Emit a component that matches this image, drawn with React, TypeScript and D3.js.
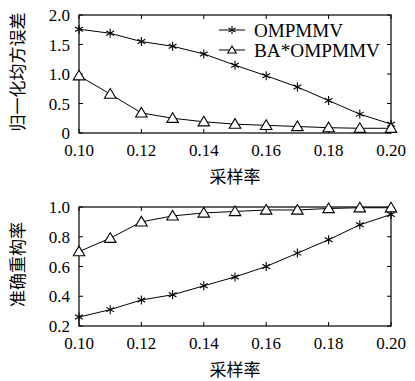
import React from "react";
import * as d3 from "d3";

// Sampling rates (x values shared by both panels)
const sampleRates = [0.1, 0.11, 0.12, 0.13, 0.14, 0.15, 0.16, 0.17, 0.18, 0.19, 0.2];
const xTicks = [0.1, 0.12, 0.14, 0.16, 0.18, 0.2];

// Normalised mean-square error
const nmseOMP = [1.76, 1.69, 1.55, 1.47, 1.34, 1.15, 0.97, 0.78, 0.55, 0.32, 0.15];
const nmseBA = [0.97, 0.66, 0.34, 0.25, 0.19, 0.15, 0.13, 0.11, 0.09, 0.08, 0.08];
const nmseTicks = [0, 0.5, 1.0, 1.5, 2.0];

// Exact reconstruction rate
const rateOMP = [0.26, 0.31, 0.375, 0.41, 0.47, 0.53, 0.6, 0.69, 0.78, 0.88, 0.95];
const rateBA = [0.7, 0.79, 0.9, 0.94, 0.96, 0.97, 0.98, 0.98, 0.99, 0.995, 0.995];
const rateTicks = [0.2, 0.4, 0.6, 0.8, 1.0];

const seriesNames = ["OMPMMV", "BA*OMPMMV"];

const W = 415;
const H = 381;
const left = 79;
const right = 391;
const serif = "'Liberation Serif', 'DejaVu Serif', serif";
const cjk = "'Noto Sans CJK SC', sans-serif";

const Star = ({ x, y, r = 4.5 }: { x: number; y: number; r?: number }) => {
  const a = r * Math.cos(Math.PI / 6);
  const b = r * Math.sin(Math.PI / 6);
  return (
    <g stroke="#000" strokeWidth={1.1}>
      <line x1={x} y1={y - r} x2={x} y2={y + r} />
      <line x1={x - a} y1={y - b} x2={x + a} y2={y + b} />
      <line x1={x - a} y1={y + b} x2={x + a} y2={y - b} />
    </g>
  );
};

const Tri = ({ x, y, s = 5.5 }: { x: number; y: number; s?: number }) => (
  <path
    d={`M${x},${y - s}L${x + s * 1.05},${y + s * 0.75}L${x - s * 1.05},${y + s * 0.75}Z`}
    fill="#fff"
    stroke="#000"
    strokeWidth={1.1}
  />
);

type PanelProps = {
  top: number;
  bottom: number;
  domain: [number, number];
  yTicks: number[];
  yFmt: (v: number) => string;
  omp: number[];
  ba: number[];
  yLabel: string;
  legend?: boolean;
};

const Panel = ({ top, bottom, domain, yTicks, yFmt, omp, ba, yLabel, legend }: PanelProps) => {
  const x = d3.scaleLinear().domain([0.1, 0.2]).range([left, right]);
  const y = d3.scaleLinear().domain(domain).range([bottom, top]);
  const line = d3
    .line<number>()
    .x((_, i) => x(sampleRates[i]))
    .y((d) => y(d));
  const tl = 4;
  const row1 = top + 15;
  const row2 = top + 35;
  return (
    <g>
      {/* legend background sits beneath the curves */}
      {legend && <rect x={215} y={top + 4} width={right - 217} height={40} fill="#fff" />}
      {/* data lines */}
      <path d={line(omp) ?? ""} fill="none" stroke="#000" strokeWidth={1} />
      <path d={line(ba) ?? ""} fill="none" stroke="#000" strokeWidth={1} />
      {/* frame */}
      <rect x={left} y={top} width={right - left} height={bottom - top} fill="none" stroke="#000" strokeWidth={1.2} />
      {/* x ticks */}
      {xTicks.map((t) => (
        <g key={"x" + t}>
          <line x1={x(t)} x2={x(t)} y1={bottom} y2={bottom - tl} stroke="#000" />
          <line x1={x(t)} x2={x(t)} y1={top} y2={top + tl} stroke="#000" />
          <text x={x(t)} y={bottom + 23} textAnchor="middle" fontFamily={serif} fontSize={17}>
            {t.toFixed(2)}
          </text>
        </g>
      ))}
      {/* y ticks */}
      {yTicks.map((t) => (
        <g key={"y" + t}>
          <line x1={left} x2={left + tl} y1={y(t)} y2={y(t)} stroke="#000" />
          <line x1={right} x2={right - tl} y1={y(t)} y2={y(t)} stroke="#000" />
          <text x={left - 9} y={y(t) + 6} textAnchor="end" fontFamily={serif} fontSize={17}>
            {yFmt(t)}
          </text>
        </g>
      ))}
      {/* markers */}
      {omp.map((v, i) => (
        <Star key={"s" + i} x={x(sampleRates[i])} y={y(v)} />
      ))}
      {ba.map((v, i) => (
        <Tri key={"t" + i} x={x(sampleRates[i])} y={y(v)} />
      ))}
      {/* axis titles */}
      <text
        transform={`translate(${24},${(top + bottom) / 2 - 2}) rotate(-90)`}
        textAnchor="middle"
        fontFamily={cjk}
        fontSize={17}
      >
        {yLabel}
      </text>
      <text x={(left + right) / 2} y={bottom + 50} textAnchor="middle" fontFamily={cjk} fontSize={17}>
        采样率
      </text>
      {legend && (
        <g>
          <line x1={219} x2={245} y1={row1} y2={row1} stroke="#000" />
          <Star x={232} y={row1} r={4} />
          <text x={254} y={row1 + 7} fontFamily={serif} fontSize={18} textLength={89} lengthAdjust="spacingAndGlyphs">
            {seriesNames[0]}
          </text>
          <line x1={219} x2={245} y1={row2} y2={row2} stroke="#000" />
          <Tri x={232} y={row2} s={4} />
          <text x={254} y={row2 + 7} fontFamily={serif} fontSize={18} textLength={126} lengthAdjust="spacingAndGlyphs">
            {seriesNames[1]}
          </text>
        </g>
      )}
    </g>
  );
};

export default function App() {
  return (
    <svg width={W} height={H} style={{ display: "block", position: "absolute", left: 0, top: 0, background: "#fff" }}>
      <Panel
        top={15}
        bottom={133}
        domain={[0, 2]}
        yTicks={nmseTicks}
        yFmt={(v) => (v === 0 ? "0" : v.toFixed(1))}
        omp={nmseOMP}
        ba={nmseBA}
        yLabel="归一化均方误差"
        legend
      />
      <Panel
        top={207}
        bottom={326}
        domain={[0.2, 1]}
        yTicks={rateTicks}
        yFmt={(v) => v.toFixed(1)}
        omp={rateOMP}
        ba={rateBA}
        yLabel="准确重构率"
      />
    </svg>
  );
}
